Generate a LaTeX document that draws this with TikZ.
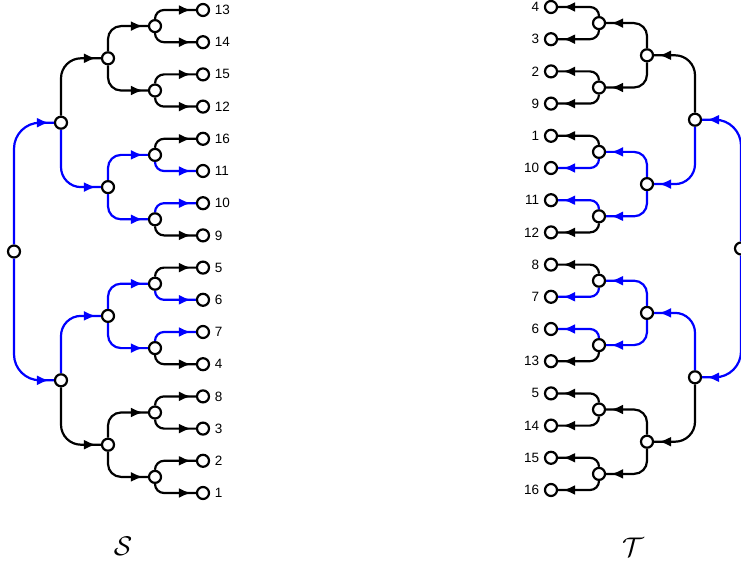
\documentclass[tikz,border=0pt]{standalone}
\usepackage{fontspec}
\setmainfont{Liberation Sans}
\usepackage{amsmath,amssymb}
\usetikzlibrary{arrows.meta,decorations.markings}

\tikzset{
  vtx/.style={circle,draw,line width=2.2pt,fill=white,inner sep=0pt,minimum size=12pt},
  lbl/.style={font=\fontsize{13.5}{15}\selectfont,inner sep=1pt,label distance=3.5pt},
  edge/.style={line width=2.2pt,postaction={decorate},
    decoration={markings,mark=at position -5pt with {\arrow{Latex[length=12pt,width=10pt]}}}},
}

\begin{document}
\begin{tikzpicture}[x=1pt,y=-1pt]
   \useasboundingbox (0,0) rectangle (741,564);
   % leaves
   \foreach \i [count=\n] in {13,14,15,12,16,11,10,9,5,6,7,4,8,3,2,1}
      \node[vtx,label={[lbl]right:\i}] (sd\n) at (203,{10+32.2*(\n-1)}) {};
   \foreach \i [count=\n] in {4,3,2,9,1,10,11,12,8,7,6,13,5,14,15,16}
      \node[vtx,label={[lbl]left:\i}] (td\n) at (551,{7+32.2*(\n-1)}) {};
   % inner vertices
   \foreach \t/\xc/\xb/\xa/\xr/\yy in {s/155/108/61/14/10, t/599/647/695/741/7} {
      \foreach \n in {1,...,8} \node[vtx] (\t c\n) at (\xc,{\yy+32.2*(2*\n-1.5)}) {};
      \foreach \n in {1,...,4} \node[vtx] (\t b\n) at (\xb,{\yy+32.2*(4*\n-2.5)}) {};
      \foreach \n in {1,2} \node[vtx] (\t a\n) at (\xa,{\yy+32.2*(8*\n-4.5)}) {};
      \node[vtx] (\t r) at (\xr,{\yy+32.2*7.5}) {};
   }
   % edges
   \foreach \t in {s,t} {
      \foreach \p/\c/\col/\r in {r/a1/blue/26pt, r/a2/blue/26pt,
            a1/b1/black/20pt, a1/b2/blue/20pt, a2/b3/blue/20pt, a2/b4/black/20pt,
            b1/c1/black/13pt, b1/c2/black/13pt, b2/c3/blue/13pt, b2/c4/blue/13pt,
            b3/c5/blue/13pt, b3/c6/blue/13pt, b4/c7/black/13pt, b4/c8/black/13pt,
            c1/d1/black/9pt, c1/d2/black/9pt, c2/d3/black/9pt, c2/d4/black/9pt,
            c3/d5/black/9pt, c3/d6/blue/9pt, c4/d7/blue/9pt, c4/d8/black/9pt,
            c5/d9/black/9pt, c5/d10/blue/9pt, c6/d11/blue/9pt, c6/d12/black/9pt,
            c7/d13/black/9pt, c7/d14/black/9pt, c8/d15/black/9pt, c8/d16/black/9pt}
         \draw[edge,\col,rounded corners=\r] (\t\p) |- (\t\c);
   }
   % tree names
   \node[scale=2.7] (sname) at (123,546) {$\mathcal{S}$};
   \node[scale=2.7] (tname) at (633,547) {$\mathcal{T}$};
\end{tikzpicture}
\end{document}
